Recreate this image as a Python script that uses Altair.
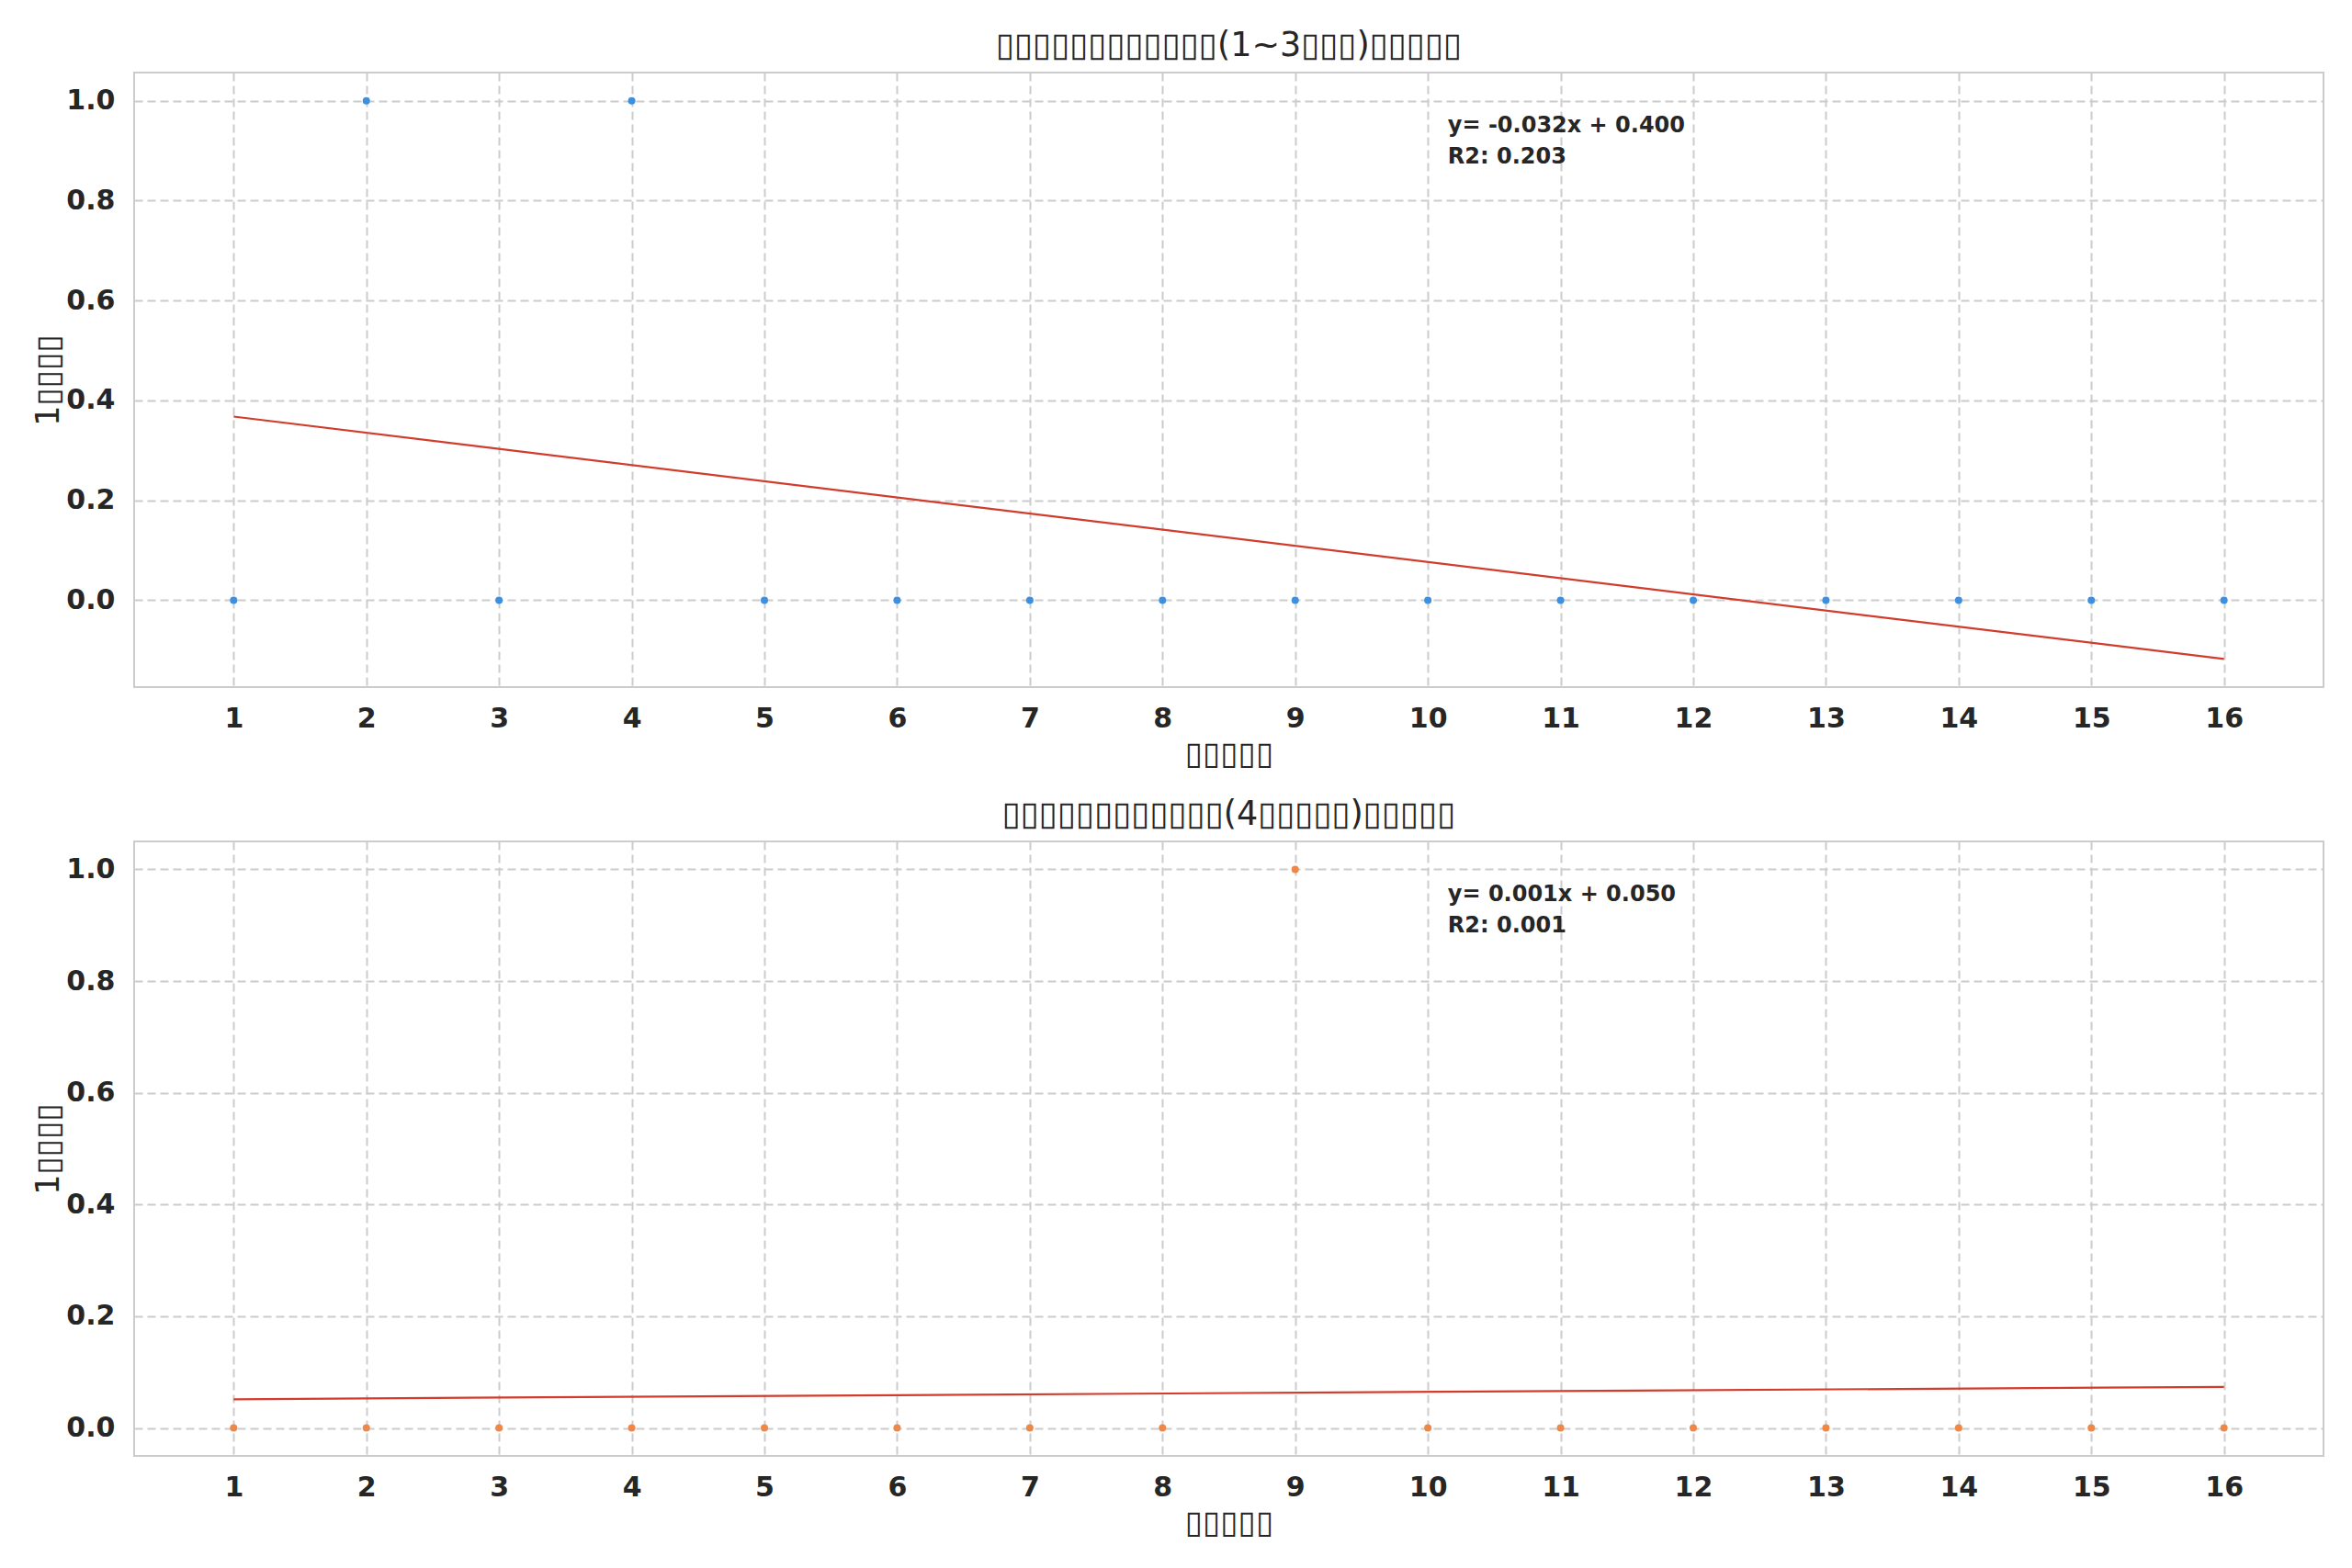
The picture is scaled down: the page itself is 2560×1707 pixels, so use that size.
import altair as alt
import pandas as pd

# ---- data ----
rounds = list(range(1, 17))
hits_top = [0, 1, 0, 1, 0, 0, 0, 0, 0, 0, 0, 0, 0, 0, 0, 0]
hits_bottom = [0, 0, 0, 0, 0, 0, 0, 0, 1, 0, 0, 0, 0, 0, 0, 0]

title_top = "▯▯▯▯▯▯▯▯▯▯▯▯(1~3▯▯▯)▯▯▯▯▯"
title_bottom = "▯▯▯▯▯▯▯▯▯▯▯▯(4▯▯▯▯▯)▯▯▯▯▯"
x_title = "▯▯▯▯▯"
y_title = "1▯▯▯▯"
note_top = "y= -0.032x + 0.400\nR2: 0.203"
note_bottom = "y= 0.001x + 0.050\nR2: 0.001"

y_ticks = [0.0, 0.2, 0.4, 0.6, 0.8, 1.0]
x_domain = [0.25, 16.75]
y_domain_top = [-0.174, 1.0565]
y_domain_bottom = [-0.05, 1.05]

FONT = "DejaVu Sans"
TXT = "#262626"
W, H = 2383, 669


def panel(values, color, ydom, title, note):
    df = pd.DataFrame({"x": rounds, "y": values})
    base = alt.Chart(df)
    xenc = alt.X("x:Q", scale=alt.Scale(domain=x_domain, nice=False, zero=False),
                 axis=alt.Axis(values=rounds, format="d", title=x_title))
    yenc = alt.Y("y:Q", scale=alt.Scale(domain=ydom, nice=False, zero=False),
                 axis=alt.Axis(values=y_ticks, format=".1f", title=y_title))
    pts = base.mark_circle(size=64, opacity=1, color=color).encode(x=xenc, y=yenc)
    line = base.transform_regression("x", "y").mark_line(
        color="#d13c2c", strokeWidth=2.2).encode(x="x:Q", y="y:Q")
    # annotation placed in axes-fraction terms (x 0.6, near the top)
    nx = x_domain[0] + 0.6 * (x_domain[1] - x_domain[0])
    ny = ydom[0] + (1 - 46 / H) * (ydom[1] - ydom[0])
    ann = alt.Chart(pd.DataFrame({"x": [nx], "y": [ny], "t": [note]})).mark_text(
        align="left", baseline="top", font=FONT, fontSize=24, fontWeight="bold",
        color=TXT, lineBreak="\n", lineHeight=34
    ).encode(x="x:Q", y="y:Q", text="t:N")
    return alt.layer(line, pts, ann).properties(
        width=W, height=H,
        title=alt.TitleParams(title, fontSize=36.5, font=FONT, fontWeight="normal",
                              color=TXT, offset=10.5, anchor="middle"))


top = panel(hits_top, "#3f8fdf", y_domain_top, title_top, note_top)
bottom = panel(hits_bottom, "#ef8747", y_domain_bottom, title_bottom, note_bottom)

chart = alt.vconcat(top, bottom, spacing=29).properties(
    padding={"left": 26, "top": 23, "right": 10, "bottom": 10}
).configure_view(
    stroke="#cccccc", strokeWidth=2
).configure_axis(
    domain=False, ticks=False, grid=True, gridColor="#cccccc", gridWidth=2,
    gridDash=[9, 5], labelFont=FONT, labelFontSize=30, labelFontWeight="bold",
    labelColor=TXT, titleFont=FONT, titleFontSize=35, titleFontWeight="normal",
    titleColor=TXT
).configure_axisX(
    labelPadding=19, titlePadding=6
).configure_axisY(
    labelPadding=21, titlePadding=1
)

chart.save("out.html", embed_options={"renderer": "svg", "actions": False})
